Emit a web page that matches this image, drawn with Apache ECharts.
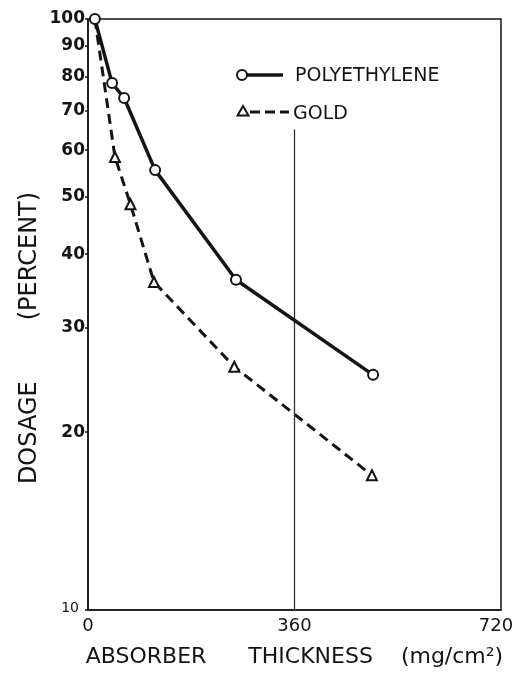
<!DOCTYPE html>
<html><head><meta charset="utf-8">
<script src="https://cdn.jsdelivr.net/npm/echarts@6/dist/echarts.min.js"></script>
<style>html,body{margin:0;padding:0;background:#fff}#c{width:530px;height:684px}</style>
</head><body><div id="c"></div>
<script>
// Data
const thicknessPoly = [12, 42, 63, 117, 258, 497];
const dosagePoly = [100, 77.9, 73.5, 55.5, 36.2, 25.0];
const thicknessGold = [12, 47, 74, 115, 255, 495];
const dosageGold = [100, 58.4, 48.6, 35.9, 25.8, 16.9];
const xTicks = [0, 360, 720];
const yTicks = [10, 20, 30, 40, 50, 60, 70, 80, 90, 100];
const refLineX = 360;
const refLineRange = [10, 65];
const seriesNames = ['POLYETHYLENE', 'GOLD'];
const xName = 'ABSORBER      THICKNESS    (mg/cm\u00B2)';
const yName = 'DOSAGE        (PERCENT)';

const ink = '#141414';
const font = '"DejaVu Sans", sans-serif';

const polyData = thicknessPoly.map((x, i) => [x, dosagePoly[i]]);
const goldData = thicknessGold.map((x, i) => i === 0 ? { value: [x, dosageGold[i]], symbol: 'none' } : [x, dosageGold[i]]);

const chart = echarts.init(document.getElementById('c'), null, { renderer: 'canvas' });
chart.setOption({
  animation: false,
  backgroundColor: '#fff',
  grid: { left: 88, right: 29, top: 19, bottom: 74, show: true, borderColor: ink, borderWidth: 1.5, backgroundColor: 'transparent' },
  xAxis: {
    type: 'value', min: xTicks[0], max: xTicks[xTicks.length - 1], interval: 360,
    axisLine: { show: true, lineStyle: { color: ink, width: 1.5 } },
    axisTick: { show: false },
    splitLine: { show: false },
    axisLabel: {
      color: ink, fontFamily: font, fontSize: 18, margin: 7,
      formatter: v => (v === 720 ? '{r|720}' : String(v)),
      rich: { r: { fontSize: 18, color: ink, fontFamily: font, padding: [0, 10, 0, 0] } }
    },
    name: xName, nameLocation: 'middle', nameGap: 36,
    nameTextStyle: { color: ink, fontFamily: font, fontSize: 22 }
  },
  yAxis: {
    type: 'log', logBase: 10, min: 10, max: 100,
    axisLine: { show: true, lineStyle: { color: ink, width: 1.5 } },
    axisTick: { show: true, length: 3, customValues: yTicks, lineStyle: { color: ink, width: 1.5 } },
    splitLine: { show: false },
    minorTick: { show: false },
    axisLabel: {
      customValues: yTicks,
      color: ink, fontFamily: font, fontSize: 17, fontWeight: 'bold', margin: 3,
      formatter: v => (Math.round(v) === 10 ? '{s|10}' : String(Math.round(v))),
      rich: { s: { fontSize: 14, fontWeight: 'normal', color: ink, fontFamily: font, padding: [0, 6, 4, 0] } }
    }
  },
  series: [
    {
      name: seriesNames[0], type: 'line', data: polyData,
      symbol: 'circle', symbolSize: 10,
      itemStyle: { color: '#fff', borderColor: ink, borderWidth: 2 },
      lineStyle: { color: ink, width: 3.5 },
      z: 5,
      markLine: {
        silent: true, symbol: 'none', label: { show: false },
        lineStyle: { color: '#333', width: 1.3, type: 'solid' },
        data: [[{ coord: [refLineX, refLineRange[0]] }, { coord: [refLineX, refLineRange[1]] }]]
      }
    },
    {
      name: seriesNames[1], type: 'line', data: goldData,
      symbol: 'triangle', symbolSize: 10,
      itemStyle: { color: '#fff', borderColor: ink, borderWidth: 2 },
      lineStyle: { color: ink, width: 3, type: [10, 6] },
      z: 4
    }
  ],
  graphic: [
    { type: 'text', x: 30, y: 338, rotation: Math.PI / 2,
      style: { text: yName, fill: ink, font: '24px ' + font, textAlign: 'center', textVerticalAlign: 'middle' } },
    { type: 'line', shape: { x1: 247, y1: 75, x2: 283, y2: 75 }, style: { stroke: ink, lineWidth: 3.5 } },
    { type: 'circle', shape: { cx: 242, cy: 75, r: 5 }, style: { fill: '#fff', stroke: ink, lineWidth: 2 } },
    { type: 'text', x: 295, y: 76, style: { text: seriesNames[0], fill: ink, font: '19px ' + font, verticalAlign: 'middle' } },
    { type: 'line', shape: { x1: 250, y1: 112, x2: 289, y2: 112 }, style: { stroke: ink, lineWidth: 3, lineDash: [10, 5] } },
    { type: 'polygon', shape: { points: [[243, 106], [237.5, 115.5], [248.5, 115.5]] }, style: { fill: '#fff', stroke: ink, lineWidth: 2 } },
    { type: 'text', x: 293, y: 114, style: { text: seriesNames[1], fill: ink, font: '19px ' + font, verticalAlign: 'middle' } }
  ]
});
</script></body></html>
